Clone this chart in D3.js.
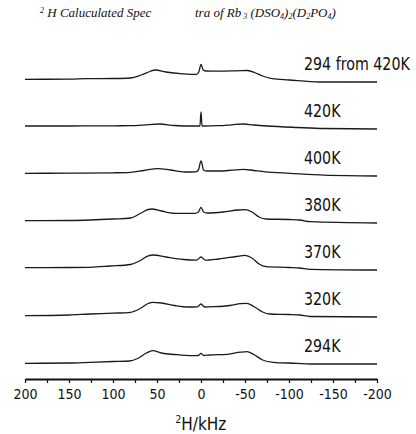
<!DOCTYPE html>
<html>
<head>
<meta charset="utf-8">
<script src="https://cdn.jsdelivr.net/npm/d3@7"></script>
<style>
  html, body { margin: 0; padding: 0; background: #fff; }
  svg { display: block; }
</style>
</head>
<body>
<svg id="chart" width="416" height="434"></svg>
<script>
// Spectrum traces: [frequency in kHz, intensity in a.u.], listed top to bottom
const labels = ["294 from 420K", "420K", "400K", "380K", "370K", "320K", "294K"];

const spec294from420 = [[200,2.7],[150,2.8],[130,3.3],[100,3.5],[80,4],[68,7],[58,10.5],[52,12],[40,10],[20,8.2],[5,7.7],[2.5,10],[0,17.7],[-2.5,12],[-5,11],[-20,10.8],[-40,11.2],[-53,11.5],[-62,9],[-70,6],[-81,3.3],[-100,2],[-135,0],[-200,0]];
const spec420 = [[200,3],[150,3],[100,3.2],[80,3.3],[60,4.3],[47,5],[30,3.5],[10,3],[1.2,3],[0,17],[-1.2,3],[-20,3.3],[-35,4.2],[-48,5],[-60,4],[-75,3],[-110,1.5],[-140,0.5],[-200,0]];
const spec400 = [[200,2.7],[150,2.8],[100,3.2],[80,3.7],[65,5.5],[49,7.4],[35,6],[18,4],[6,4.2],[3,6],[0,15],[-3,6],[-6,5],[-20,5],[-35,5.8],[-48,6.7],[-60,5.5],[-73,4.2],[-101,2.7],[-140,0.8],[-200,0]];
const spec380 = [[200,2.3],[150,2.5],[126,3],[100,4],[80,5],[70,9],[60,13.5],[56,14],[45,12],[30,9.7],[7,9.7],[3,11],[0,15.7],[-3,11],[-7,10],[-25,11],[-42,13],[-50,13.3],[-58,11],[-66,6],[-74,4],[-100,3.5],[-112,3],[-124,1.3],[-200,0]];
const spec370 = [[200,2.4],[150,2.5],[126,2.7],[103,4],[80,5.5],[70,9],[60,14.2],[54,15],[40,13],[20,10.5],[5,9.8],[0,13],[-5,9.8],[-20,11],[-40,13.5],[-50,14.7],[-58,12],[-66,6],[-74,3.4],[-100,2.5],[-112,2],[-124,0.7],[-200,0]];
const spec320 = [[200,1.3],[150,2],[126,3],[100,3.8],[80,4.7],[70,8],[60,13.5],[55,14.7],[45,14],[30,11.5],[15,10],[4,10.2],[0,13],[-4,10],[-15,10.3],[-33,11.5],[-45,13.3],[-52,13.7],[-60,10.5],[-70,5],[-78,3],[-100,2.5],[-112,2],[-124,0.5],[-200,0]];
const spec294 = [[200,0.7],[150,1],[126,1.7],[100,2.5],[81,3],[72,5.5],[62,11],[55,13.3],[45,11],[30,9.5],[10,8.3],[3,8.5],[0,10.7],[-3,8.5],[-10,9],[-30,9.7],[-45,11.8],[-52,12.3],[-60,9.5],[-70,4],[-82,1.7],[-109,0.7],[-124,0],[-200,0]];

const spectra = [spec294from420, spec420, spec400, spec380, spec370, spec320, spec294];

// Axis ticks
const tickValues = d3.range(200, -201, -25);
const tickLabels = ["200", "150", "100", "50", "0", "-50", "-100", "-150", "-200"];
const labeledTicks = [200, 150, 100, 50, 0, -50, -100, -150, -200];

const stackStep = 47;   // vertical separation between traces, a.u.

const svg = d3.select("#chart");
const sans = "'DejaVu Sans Condensed', 'DejaVu Sans', sans-serif";

const x = d3.scaleLinear().domain([200, -200]).range([25, 377]);
const y = d3.scaleLinear().domain([0, 300]).range([364, 64]);

// title
const title = svg.append("text")
  .attr("x", 40).attr("y", 17)
  .attr("font-family", "'Liberation Serif', 'Times New Roman', serif")
  .attr("font-style", "italic")
  .attr("font-size", 13)
  .attr("fill", "#111");
title.append("tspan").attr("font-size", 8).attr("dy", -4).text("2");
title.append("tspan").attr("dy", 4).text(" H Caluculated Spec");
title.append("tspan").attr("x", 195).text("tra of Rb");
title.append("tspan").attr("font-size", 8).attr("dy", 2).text(" 3");
title.append("tspan").attr("dy", -2).text(" (DSO");
title.append("tspan").attr("font-size", 8).attr("dy", 2).text("4");
title.append("tspan").attr("dy", -2).text(")");
title.append("tspan").attr("font-size", 8).attr("dy", 2).text("2");
title.append("tspan").attr("dy", -2).text("(D");
title.append("tspan").attr("font-size", 8).attr("dy", 2).text("2");
title.append("tspan").attr("dy", -2).text("PO");
title.append("tspan").attr("font-size", 8).attr("dy", 2).text("4");
title.append("tspan").attr("dy", -2).text(")");

// traces
const line = d3.line().curve(d3.curveMonotoneX);
const nTraces = spectra.length;

spectra.forEach((pts, i) => {
  const offset = (nTraces - 1 - i) * stackStep;
  const sorted = pts.slice().sort((a, b) => b[0] - a[0]);
  svg.append("path")
    .attr("d", line(sorted.map(d => [x(d[0]), y(offset + d[1])])))
    .attr("fill", "none")
    .attr("stroke", "#1a1a1a")
    .attr("stroke-width", 1.3)
    .attr("stroke-linejoin", "round");

  svg.append("text")
    .attr("transform", `translate(304,${y(offset) - 12}) scale(0.88,1)`)
    .attr("font-family", sans)
    .attr("font-size", 18)
    .attr("fill", "#111")
    .text(labels[i]);
});

// x axis
const axis = d3.axisBottom(x)
  .tickValues(tickValues)
  .tickSize(4)
  .tickSizeOuter(0)
  .tickFormat(v => {
    const k = labeledTicks.indexOf(v);
    return k >= 0 ? tickLabels[k] : "";
  });

const gx = svg.append("g").attr("transform", "translate(0,379)").call(axis);
gx.select(".domain").attr("stroke", "#111").attr("stroke-width", 1.8);
gx.selectAll(".tick line").attr("stroke", "#111").attr("stroke-width", 1.2);
gx.selectAll(".tick text")
  .attr("font-family", sans)
  .attr("font-size", 14)
  .attr("fill", "#111")
  .attr("y", 20)
  .attr("dy", 0);

// axis title
const xt = svg.append("text")
  .attr("x", 201).attr("y", 430)
  .attr("text-anchor", "middle")
  .attr("font-family", sans)
  .attr("font-size", 17)
  .attr("fill", "#111");
xt.append("tspan").attr("font-size", 10).attr("dy", -7).text("2");
xt.append("tspan").attr("dy", 7).text("H/kHz");
</script>
</body>
</html>
